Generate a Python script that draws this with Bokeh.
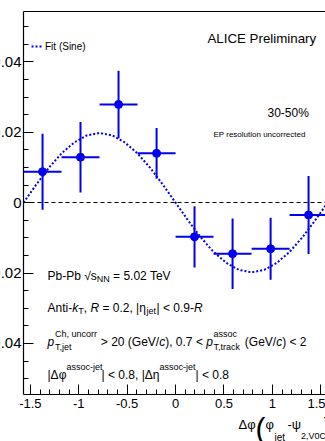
import math
from bokeh.plotting import figure
from bokeh.models import (Range1d, SingleIntervalTicker, Label, ColumnDataSource,
                          Legend, LegendItem, CustomJSTickFormatter, LinearAxis)
from bokeh.embed import file_html
from bokeh.resources import INLINE

# ---------------- data ----------------
bin_centers = [-1.374, -0.982, -0.589, -0.196, 0.196, 0.589, 0.982, 1.374]
bin_halfwidth = [0.196, 0.196, 0.196, 0.196, 0.196, 0.196, 0.196, 0.196]
corr_vals = [0.0088, 0.0129, 0.0279, 0.0140, -0.0097, -0.0145, -0.0131, -0.0035]
corr_errs = [0.0108, 0.0100, 0.0096, 0.0072, 0.0087, 0.0100, 0.0088, 0.0111]

fit_x = [-1.571, -1.440, -1.309, -1.178, -1.047, -0.916, -0.785, -0.654, -0.524,
         -0.393, -0.262, -0.131, 0.0, 0.131, 0.262, 0.393, 0.524, 0.654, 0.785,
         0.916, 1.047, 1.178, 1.309, 1.440, 1.571]
fit_y = [0.0, 0.0051, 0.0099, 0.0140, 0.0171, 0.0191, 0.0198, 0.0191, 0.0171,
         0.0140, 0.0099, 0.0051, 0.0, -0.0051, -0.0099, -0.0140, -0.0171, -0.0191,
         -0.0198, -0.0191, -0.0171, -0.0140, -0.0099, -0.0051, 0.0]

# ---------------- layout ----------------
F = "Liberation Sans"
BLUE = "#0000ee"
X0, X1 = -1.5708, 1.5490          # axis box span in x
Y0, Y1 = -0.0545, 0.0543          # axis box span in y
FL, FR, FT, FB = 23.0, 325.0, 11.0, 394.0   # axis box edges in page pixels
PXX = (FR - FL) / (X1 - X0)
PXY = (FB - FT) / (Y1 - Y0)
XL = X0 - FL / PXX                # frame covers the whole canvas
YT = Y1 + FT / PXY
YB = Y1 - (441.0 - FT) / PXY

def dx(px):
    return X0 + (px - FL) / PXX

def dy(py):
    return Y1 - (py - FT) / PXY

p = figure(width=325, height=441, x_range=Range1d(XL, X1), y_range=Range1d(YB, YT),
           output_backend="svg", toolbar_location=None, min_border=0)
p.outline_line_color = None
p.grid.visible = False
p.background_fill_color = "white"
p.border_fill_color = "white"

p.xaxis.ticker = SingleIntervalTicker(interval=0.5, num_minor_ticks=5)
p.yaxis.ticker = SingleIntervalTicker(interval=0.02, num_minor_ticks=4)
p.xaxis.formatter = CustomJSTickFormatter(code="return String(Math.round(tick*100)/100);")
p.yaxis.formatter = CustomJSTickFormatter(code="return String(Math.round(tick*1000)/1000);")
p.xaxis.fixed_location = Y0
p.yaxis.fixed_location = X0
p.xaxis.bounds = (X0, X1)
p.yaxis.bounds = (Y0, Y1)
for ax in (p.xaxis, p.yaxis):
    ax.major_tick_in = 10
    ax.major_tick_out = 0
    ax.minor_tick_in = 5
    ax.minor_tick_out = 0
    ax.axis_line_color = "black"
    ax.axis_line_width = 1.2
    ax.major_tick_line_color = "black"
    ax.minor_tick_line_color = "black"
    ax.major_label_text_font = F
    ax.major_label_text_color = "black"
p.xaxis.major_label_text_font_size = "13px"
p.yaxis.major_label_text_font_size = "15px"
p.xaxis.major_label_standoff = 4
p.yaxis.major_label_standoff = 2

# top edge of the box and the dashed zero line (plain axis lines, no ticks)
for loc, dash in ((Y1, "solid"), (0.0, "4 3")):
    extra = LinearAxis(fixed_location=loc, bounds=(X0, X1), axis_line_color="black",
                       axis_line_width=1.2 if dash == "solid" else 1.0,
                       axis_line_dash=dash,
                       major_tick_line_color=None, minor_tick_line_color=None,
                       major_label_text_font_size="0px", major_label_text_alpha=0)
    p.add_layout(extra, "below")

# fit
fit_r = p.line(fit_x, fit_y, line_color=BLUE, line_width=2, line_dash="2 2")

# data points with error bars
src = ColumnDataSource(dict(
    x=bin_centers, y=corr_vals,
    x0=[c - h for c, h in zip(bin_centers, bin_halfwidth)],
    x1=[c + h for c, h in zip(bin_centers, bin_halfwidth)],
    y0=[v - e for v, e in zip(corr_vals, corr_errs)],
    y1=[v + e for v, e in zip(corr_vals, corr_errs)],
))
p.segment(x0="x0", y0="y", x1="x1", y1="y", source=src, line_color=BLUE, line_width=2)
p.segment(x0="x", y0="y0", x1="x", y1="y1", source=src, line_color=BLUE, line_width=2)
p.scatter(x="x", y="y", source=src, size=8, color=BLUE)

legend = Legend(items=[LegendItem(label="Fit (Sine)", renderers=[fit_r])],
                location=(31, 389), border_line_color=None, background_fill_alpha=0,
                padding=0, margin=0, glyph_width=12, glyph_height=12, label_standoff=2,
                label_text_font=F, label_text_font_size="10px", label_text_color="black",
                label_height=12)
p.add_layout(legend)


def put(txt, px, py, size, style="normal"):
    p.add_layout(Label(x=dx(px), y=dy(py), text=txt, text_font=F,
                       text_font_size=f"{size}px", text_font_style=style,
                       text_color="black", text_baseline="alphabetic", text_align="left"))

put("ALICE Preliminary", 207, 38, 13.3)
put("30-50%", 267, 112, 12)
put("EP resolution uncorrected", 213, 134, 8)

S, s = 12, 9
# line 1
b = 275
put("Pb-Pb", 47, b, S)
put("\u221a", 83.7, b, S)
put("s", 90.3, b, S)
put("NN", 96.3, b + 3, s)
put("= 5.02 TeV", 112.6, b, S)

# line 2
b = 307
put("Anti-", 47, b, S)
put("k", 71.7, b, S, "italic")
put("T", 77.7, b + 3, s)
put(",", 83.2, b, S)
put("R", 89.9, b, S, "italic")
put("= 0.2, |\u03b7", 101.9, b, S)
put("jet", 146, b + 3, s)
put("| < 0.9-", 156, b, S)
put("R", 193.5, b, S, "italic")

# line 3
b = 341
put("p", 47, b, S, "italic")
put("Ch, uncorr", 54.5, b - 8, s)
put("T,jet", 54.5, b + 5, s)
put("> 20 (GeV/", 100.3, b, S)
put("c", 158.7, b, S, "italic")
put("), 0.7 <", 164.7, b, S)
put("p", 205.7, b, S, "italic")
put("assoc", 212.9, b - 8, s)
put("T,track", 212.9, b + 5, s)
put("(GeV/", 244.3, b, S)
put("c", 275.7, b, S, "italic")
put(") < 2", 281.7, b, S)

# line 4
b = 374
put("|\u0394\u03c6", 47, b, S)
put("assoc-jet", 66, b - 8, s)
put("| < 0.8, |\u0394\u03b7", 101, b, S)
put("assoc-jet", 159, b - 8, s)
put("| < 0.8", 195, b, S)

# x axis title
put("\u0394\u03c6", 238, 424, 13)
put("(", 255, 428, 30)
put("\u03c6", 265, 424, 13)
put("jet", 274, 437, 10)
put("-\u03c8", 287, 424, 13)
put("2,V0C", 300.5, 435, 9)
put(")", 323, 428, 30)

open("out.html", "w").write(file_html(p, INLINE))
